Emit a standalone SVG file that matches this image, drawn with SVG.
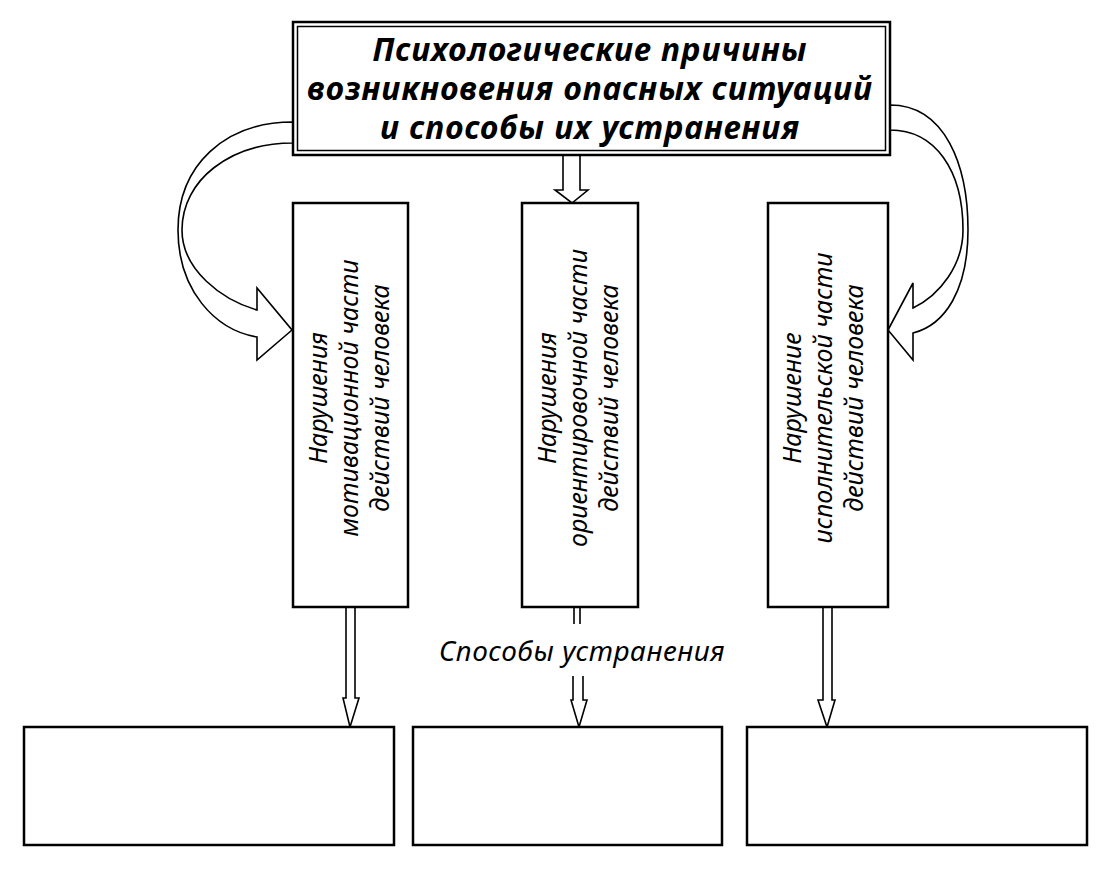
<svg xmlns="http://www.w3.org/2000/svg" width="1118" height="875" viewBox="0 0 1118 875">
<style>
.box{fill:#fff;stroke:#000;stroke-width:2.5}
.inner{fill:none;stroke:#000;stroke-width:1.5}
.arr{fill:#fff;stroke:#000;stroke-width:1.6;stroke-linejoin:miter}
.ln{fill:none;stroke:#000;stroke-width:1.6}
.title{font-family:"Noto Sans","Liberation Sans",sans-serif;font-size:32px;letter-spacing:1px;font-weight:bold;font-style:italic;text-anchor:middle;fill:#000}
.vt{font-family:"Noto Sans","Liberation Sans",sans-serif;font-size:25px;font-style:italic;text-anchor:middle;fill:#000}
.lbl{font-family:"Noto Sans","Liberation Sans",sans-serif;font-size:28px;letter-spacing:0.5px;font-style:italic;text-anchor:middle;fill:#000}
</style>
<rect width="1118" height="875" fill="#fff"/>
<g id="connectors">
<path class="arr" d="M293,122 C225,122 178,165 178,230 C178,290 215,330 257,337 L257,360 L292,330 L257,288 L257,310 C222,300 182,270 182,230 C182,180 230,143 293,143 Z"/>
<path class="arr" d="M890,105 C945,105 968,165 968,230 C968,290 945,325 913,333 L913,360 L888,330 L913,283 L913,308 C940,295 963,265 963,230 C963,170 935,130 890,130 Z"/>
<path class="arr" d="M563,155 L563,190 L555,190 L572,203 L588,190 L580,190 L580,155 Z"/>
<path class="arr" d="M346,607 L346,698 L343,698 L350,727 L359,698 L355,698 L355,607 Z"/>
<path class="ln" d="M574,607 L574,624 M580,607 L580,624"/>
<path class="arr" d="M573,676 L573,700 L571,700 L579,727 L587,700 L583,700 L583,676"/>
<path class="arr" d="M823,607 L823,700 L818,700 L827,727 L835,700 L832,700 L832,607 Z"/>
<text class="lbl" x="582" y="661">Способы устранения</text>
</g>
<g id="title">
<rect class="box" x="293" y="22" width="597" height="133"/>
<rect class="inner" x="297.5" y="26.5" width="588" height="124"/>
<text class="title" x="590" y="61">Психологические причины</text>
<text class="title" x="590" y="100">возникновения опасных ситуаций</text>
<text class="title" x="590" y="139">и способы их устранения</text>
</g>
<g id="col1">
<rect class="box" x="293" y="203" width="115" height="404"/>
<text class="vt" transform="translate(327,398) rotate(-90)">Нарушения</text>
<text class="vt" transform="translate(358,398) rotate(-90)">мотивационной части</text>
<text class="vt" transform="translate(389,398) rotate(-90)">действий человека</text>
</g>
<g id="col2">
<rect class="box" x="522" y="203" width="116" height="404"/>
<text class="vt" transform="translate(556,398) rotate(-90)">Нарушения</text>
<text class="vt" transform="translate(587,398) rotate(-90)">ориентировочной части</text>
<text class="vt" transform="translate(618,398) rotate(-90)">действий человека</text>
</g>
<g id="col3">
<rect class="box" x="768" y="203" width="120" height="404"/>
<text class="vt" transform="translate(801,398) rotate(-90)">Нарушение</text>
<text class="vt" transform="translate(832,398) rotate(-90)">исполнительской части</text>
<text class="vt" transform="translate(863,398) rotate(-90)">действий человека</text>
</g>
<g id="out1"><rect class="box" x="24" y="727" width="370" height="118"/></g>
<g id="out2"><rect class="box" x="413" y="727" width="309" height="118"/></g>
<g id="out3"><rect class="box" x="747" y="727" width="340" height="118"/></g>
</svg>
